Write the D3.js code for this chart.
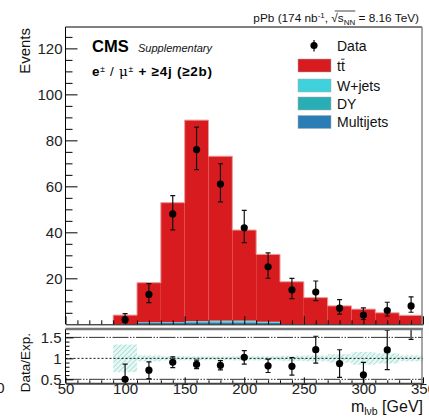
<!DOCTYPE html>
<html>
<head>
<meta charset="utf-8">
<script src="https://cdn.jsdelivr.net/npm/d3@7"></script>
<style>
  html, body { margin: 0; padding: 0; background: #fff; }
  svg { display: block; font-family: "Liberation Sans", Arial, Helvetica, sans-serif; }
</style>
</head>
<body>
<svg id="chart" width="429" height="417"></svg>
<script>
// m_lvb distribution, 20 GeV bins (lower edges)
const binLow = [90, 110, 130, 150, 170, 190, 210, 230, 250, 270, 290, 310, 330];
const binWidth = 20;

// Expected yields per process
const ttbar     = [4.0, 17.2, 51.9, 87.4, 71.5, 39.4, 29.3, 18.5, 11.6, 8.0, 6.6, 5.0, 3.9];
const wjets     = [0, 0.2, 0.2, 0.3, 0.4, 0.4, 0.3, 0, 0, 0, 0, 0, 0];
const dy        = [0, 0, 0, 0.3, 0.4, 0.4, 0.2, 0, 0, 0, 0, 0, 0];
const multijets = [0, 0.7, 0.8, 0.8, 0.8, 0.8, 0.6, 0, 0, 0, 0, 0, 0];

// Observed events with asymmetric (Poisson) uncertainties
const dataCounts = [2, 13, 48, 76, 61, 42, 25, 15, 14, 7, 4, 6, 8];
const dataErrLow  = [1.29, 3.58, 6.90, 8.70, 7.79, 6.45, 4.97, 3.84, 3.71, 2.58, 1.91, 2.38, 2.77];
const dataErrHigh = [2.64, 4.71, 7.98, 9.78, 8.87, 7.53, 6.06, 4.95, 4.83, 3.77, 3.16, 3.58, 3.94];

// Ratio panel: statistical error on data/expected, relative uncertainty band on expectation
const ratioErr = [0.36, 0.20, 0.13, 0.10, 0.11, 0.16, 0.16, 0.21, 0.32, 0.33, 0.30, 0.47, 0.60];
const bandRel  = [0.33, 0.07, 0.05, 0.045, 0.045, 0.05, 0.05, 0.06, 0.07, 0.10, 0.15, 0.12, 0.07];

// Axis ticks
const yTicksMain = [20, 40, 60, 80, 100, 120];
const yTicksRatio = [0.5, 1, 1.5];
const xTicks = [50, 100, 150, 200, 250, 300, 350];

const processes = ["multijets", "dy", "wjets", "ttbar"];
const colors = { ttbar: "#d81b1f", wjets: "#40d2dc", dy: "#2aaeb5", multijets: "#2b7db6" };

const rows = binLow.map((lo, i) => ({
  lo, hi: lo + binWidth, center: lo + binWidth / 2,
  ttbar: ttbar[i], wjets: wjets[i], dy: dy[i], multijets: multijets[i],
  data: dataCounts[i], eLo: dataErrLow[i], eHi: dataErrHigh[i],
  rErr: ratioErr[i], band: bandRel[i]
}));
rows.forEach(r => { r.total = r.ttbar + r.wjets + r.dy + r.multijets; r.ratio = r.data / r.total; });

const svg = d3.select("#chart");
const X0 = 65.5, X1 = 423;
const mainTop = 27, mainBot = 324.3;
const ratTop = 329, ratBot = 383.3;

const x = d3.scaleLinear().domain([50, 350]).range([X0, X1]);
const y = d3.scaleLinear().domain([0, 129.3]).range([mainBot, mainTop]);
const yr = d3.scaleLinear().domain([0.405, 1.70]).range([ratBot, ratTop]);

// clip regions
const defs = svg.append("defs");
defs.append("clipPath").attr("id", "clipMain").append("rect")
  .attr("x", X0).attr("y", mainTop).attr("width", X1 - X0).attr("height", mainBot - mainTop);
defs.append("clipPath").attr("id", "clipRatio").append("rect")
  .attr("x", X0).attr("y", ratTop).attr("width", X1 - X0).attr("height", ratBot - ratTop);
const hatch = defs.append("pattern").attr("id", "hatch").attr("patternUnits", "userSpaceOnUse")
  .attr("width", 3.5).attr("height", 3.5).attr("patternTransform", "rotate(45)");
hatch.append("rect").attr("width", 3.5).attr("height", 3.5).attr("fill", "#e6f7f4");
hatch.append("line").attr("x1", 0).attr("y1", 0).attr("x2", 0).attr("y2", 3.5)
  .attr("stroke", "#8fd9ce").attr("stroke-width", 1.4);

// ---------- main panel: stacked histogram ----------
const stack = d3.stack().keys(processes)(rows);
const gMain = svg.append("g").attr("clip-path", "url(#clipMain)");
stack.forEach(layer => {
  gMain.append("g").selectAll("rect").data(layer).join("rect")
    .attr("x", d => x(d.data.lo))
    .attr("width", d => x(d.data.hi) - x(d.data.lo))
    .attr("y", d => y(d[1]))
    .attr("height", d => Math.max(0, y(d[0]) - y(d[1])))
    .attr("fill", colors[layer.key]);
});
// soft outline of the total
const stepPts = [];
rows.forEach(r => { stepPts.push([x(r.lo), y(r.total)]); stepPts.push([x(r.hi), y(r.total)]); });
stepPts.unshift([x(rows[0].lo), y(0)]);
stepPts.push([x(rows[rows.length - 1].hi), y(0)]);
gMain.append("path").attr("d", d3.line()(stepPts)).attr("fill", "none")
  .attr("stroke", "#ec9a9a").attr("stroke-width", 1);

// data points
const gData = gMain.append("g");
rows.forEach(r => {
  const cx = x(r.center);
  gData.append("line").attr("x1", cx).attr("x2", cx)
    .attr("y1", y(r.data - r.eLo)).attr("y2", y(r.data + r.eHi))
    .attr("stroke", "#111").attr("stroke-width", 1.2);
  [r.data - r.eLo, r.data + r.eHi].forEach(v => gData.append("line")
    .attr("x1", cx - 2.5).attr("x2", cx + 2.5).attr("y1", y(v)).attr("y2", y(v))
    .attr("stroke", "#111").attr("stroke-width", 1.2));
  gData.append("circle").attr("cx", cx).attr("cy", y(r.data)).attr("r", 3.6).attr("fill", "#000");
});

// main axes
const tickFont = g => g.selectAll("text").attr("font-size", 15).attr("fill", "#222")
  .attr("font-family", "Liberation Sans, Arial, sans-serif");
const minorMainY = d3.range(5, 130, 5).filter(v => v % 20 !== 0);
svg.append("g").attr("transform", `translate(${X0},0)`)
  .call(d3.axisLeft(y).tickValues(minorMainY).tickSize(-7).tickFormat("").tickSizeOuter(0))
  .call(g => g.select(".domain").remove());
svg.append("g").attr("transform", `translate(${X0},0)`)
  .call(d3.axisLeft(y).tickValues(yTicksMain).tickSize(-12).tickPadding(3).tickSizeOuter(0))
  .call(tickFont)
  .call(g => g.select(".domain").attr("d", `M0,${mainTop}V${mainBot}`).attr("stroke", "#000"));
const minorX = d3.range(60, 350, 10).filter(v => v % 50 !== 0);
svg.append("g").attr("transform", `translate(0,${mainBot})`)
  .call(d3.axisBottom(x).tickValues(minorX).tickSize(-4).tickFormat("").tickSizeOuter(0))
  .call(g => g.select(".domain").remove());
svg.append("g").attr("transform", `translate(0,${mainBot})`)
  .call(d3.axisBottom(x).tickValues(xTicks).tickSize(-8).tickFormat("").tickSizeOuter(0))
  .call(g => g.select(".domain").attr("stroke", "#000"));
// frame
svg.append("line").attr("x1", X0).attr("x2", X1 - 1).attr("y1", mainTop).attr("y2", mainTop)
  .attr("stroke", "#000").attr("stroke-width", 1);
svg.append("line").attr("x1", X1 - 1).attr("x2", X1 - 1).attr("y1", mainTop).attr("y2", mainBot)
  .attr("stroke", "#888").attr("stroke-width", 1.5);

// ---------- ratio panel ----------
const gRat = svg.append("g").attr("clip-path", "url(#clipRatio)");
gRat.append("g").selectAll("rect").data(rows).join("rect")
  .attr("x", d => x(d.lo)).attr("width", d => x(d.hi) - x(d.lo))
  .attr("y", d => yr(1 + d.band)).attr("height", d => yr(1 - d.band) - yr(1 + d.band))
  .attr("fill", "url(#hatch)");
[1.5, 0.5].forEach(v => gRat.append("line").attr("x1", X0).attr("x2", X1).attr("y1", yr(v)).attr("y2", yr(v))
  .attr("stroke", "#333").attr("stroke-width", 1).attr("stroke-dasharray", "16,1.5,1.5,1.5,1.5,1.5"));
gRat.append("line").attr("x1", X0).attr("x2", X1).attr("y1", yr(1)).attr("y2", yr(1))
  .attr("stroke", "#111").attr("stroke-width", 1).attr("stroke-dasharray", "2,2");
rows.forEach(r => {
  const cx = x(r.center);
  gRat.append("line").attr("x1", cx).attr("x2", cx)
    .attr("y1", yr(r.ratio - r.rErr)).attr("y2", yr(r.ratio + r.rErr))
    .attr("stroke", "#111").attr("stroke-width", 1.2);
  [r.ratio - r.rErr, r.ratio + r.rErr].forEach(v => gRat.append("line")
    .attr("x1", cx - 2.5).attr("x2", cx + 2.5).attr("y1", yr(v)).attr("y2", yr(v))
    .attr("stroke", "#111").attr("stroke-width", 1.2));
  gRat.append("circle").attr("cx", cx).attr("cy", yr(r.ratio)).attr("r", 3.6).attr("fill", "#000");
});

const minorRatY = d3.range(0.5, 1.71, 0.1).map(v => +v.toFixed(2)).filter(v => ![0.5, 1, 1.5].includes(v));
svg.append("g").attr("transform", `translate(${X0},0)`)
  .call(d3.axisLeft(yr).tickValues(minorRatY).tickSize(-4).tickFormat("").tickSizeOuter(0))
  .call(g => g.select(".domain").remove());
svg.append("g").attr("transform", `translate(${X0},0)`)
  .call(d3.axisLeft(yr).tickValues(yTicksRatio).tickSize(-8).tickPadding(4).tickSizeOuter(0)
    .tickFormat(d => String(d)))
  .call(tickFont)
  .call(g => g.select(".domain").attr("d", `M0,${ratTop}V${ratBot}`).attr("stroke", "#000"));
svg.append("g").attr("transform", `translate(0,${ratBot})`)
  .call(d3.axisBottom(x).tickValues(minorX).tickSize(-3).tickFormat("").tickSizeOuter(0))
  .call(g => g.select(".domain").remove());
svg.append("g").attr("transform", `translate(0,${ratBot})`)
  .call(d3.axisBottom(x).tickValues(xTicks).tickSize(-6).tickPadding(0.5).tickSizeOuter(0))
  .call(tickFont)
  .call(g => g.select(".domain").attr("stroke", "#444").attr("stroke-width", 2));
svg.append("line").attr("x1", X0).attr("x2", X1).attr("y1", ratTop).attr("y2", ratTop)
  .attr("stroke", "#777").attr("stroke-width", 2.5);
svg.append("line").attr("x1", X1 - 1).attr("x2", X1 - 1).attr("y1", ratTop).attr("y2", ratBot)
  .attr("stroke", "#888").attr("stroke-width", 1.5);

// stray label at the left edge
svg.append("text").attr("x", 4.5).attr("y", 393).attr("text-anchor", "end")
  .attr("font-size", 15).attr("fill", "#222").text("0");

// ---------- axis titles ----------
svg.append("text").attr("transform", "translate(30,28) rotate(-90)").attr("text-anchor", "end")
  .attr("font-size", 15).attr("fill", "#111").text("Events");
svg.append("text").attr("transform", "translate(30,333) rotate(-90)").attr("text-anchor", "end")
  .attr("font-size", 13.5).attr("fill", "#111").text("Data/Exp.");
const xl = svg.append("text").attr("x", 423).attr("y", 411.5).attr("text-anchor", "end")
  .attr("font-size", 16).attr("fill", "#111");
xl.append("tspan").text("m");
xl.append("tspan").attr("font-size", 10.5).attr("dy", 3).text("lνb");
xl.append("tspan").attr("dy", -3).text(" [GeV]");

// ---------- header ----------
const title = svg.append("text").attr("x", 419).attr("y", 22).attr("text-anchor", "end")
  .attr("font-size", 11.8).attr("fill", "#111");
title.append("tspan").text("pPb (174 nb");
title.append("tspan").attr("font-size", 8).attr("dy", -4.5).text("-1");
title.append("tspan").attr("dy", 4.5).text(", √");
title.append("tspan").text("s");
title.append("tspan").attr("font-size", 8).attr("dy", 3).text("NN");
title.append("tspan").attr("dy", -3).text(" = 8.16 TeV)");
{
  const node = title.node();
  const full = node.textContent;
  const iS = full.indexOf("√") + 1;
  const iN = full.indexOf("NN") + 1;
  const xa = node.getStartPositionOfChar(iS - 1).x + 3.5;
  const xb = node.getEndPositionOfChar(iN).x;
  svg.append("line").attr("x1", xa).attr("x2", xb).attr("y1", 11).attr("y2", 11)
    .attr("stroke", "#111").attr("stroke-width", 0.8);
}

svg.append("text").attr("x", 92).attr("y", 52).attr("font-size", 16.5).attr("font-weight", "bold")
  .attr("fill", "#000").text("CMS");
svg.append("text").attr("x", 138).attr("y", 52).attr("font-size", 11).attr("font-style", "italic")
  .attr("fill", "#111").text("Supplementary");
const sel = svg.append("text").attr("x", 92).attr("y", 76).attr("font-size", 13.5).attr("font-weight", "bold")
  .attr("fill", "#000").attr("textLength", 120).attr("lengthAdjust", "spacing");
sel.append("tspan").text("e");
sel.append("tspan").attr("font-size", 8.5).attr("font-weight", "normal").attr("dy", -4.5).text("±");
sel.append("tspan").attr("dy", 4.5).attr("font-weight", "normal").text(" / ");
sel.append("tspan").attr("font-weight", "normal").attr("font-family", "DejaVu Serif, serif").text("μ");
sel.append("tspan").attr("font-size", 8.5).attr("font-weight", "normal").attr("dy", -4.5).text("±");
sel.append("tspan").attr("dy", 4.5).text(" + ≥4j (≥2b)");

// ---------- legend ----------
const legendItems = [
  { label: "tt", key: "ttbar", cy: 65.5 },
  { label: "W+jets", key: "wjets", cy: 85.5 },
  { label: "DY", key: "dy", cy: 103.5 },
  { label: "Multijets", key: "multijets", cy: 122 }
];
const lg = svg.append("g");
lg.append("line").attr("x1", 314).attr("x2", 314).attr("y1", 40).attr("y2", 51.5)
  .attr("stroke", "#000").attr("stroke-width", 1.2);
lg.append("circle").attr("cx", 314).attr("cy", 45.5).attr("r", 3.6).attr("fill", "#000");
lg.append("text").attr("x", 337).attr("y", 50.5).attr("font-size", 14).attr("fill", "#111").text("Data");
legendItems.forEach(it => {
  lg.append("rect").attr("x", 298).attr("y", it.cy - 6.5).attr("width", 33).attr("height", 13)
    .attr("fill", colors[it.key]).attr("stroke", "#aaa").attr("stroke-width", 0.5);
  const t = lg.append("text").attr("x", 337).attr("y", it.cy + 5).attr("font-size", 14)
    .attr("fill", "#111").text(it.label);
  if (it.key === "ttbar") {
    const n = t.node();
    const a = n.getStartPositionOfChar(1).x, b = n.getEndPositionOfChar(1).x;
    lg.append("line").attr("x1", a + 0.3).attr("x2", b - 0.3).attr("y1", it.cy - 6.3).attr("y2", it.cy - 6.3)
      .attr("stroke", "#111").attr("stroke-width", 0.9);
  }
});
</script>
</body>
</html>
